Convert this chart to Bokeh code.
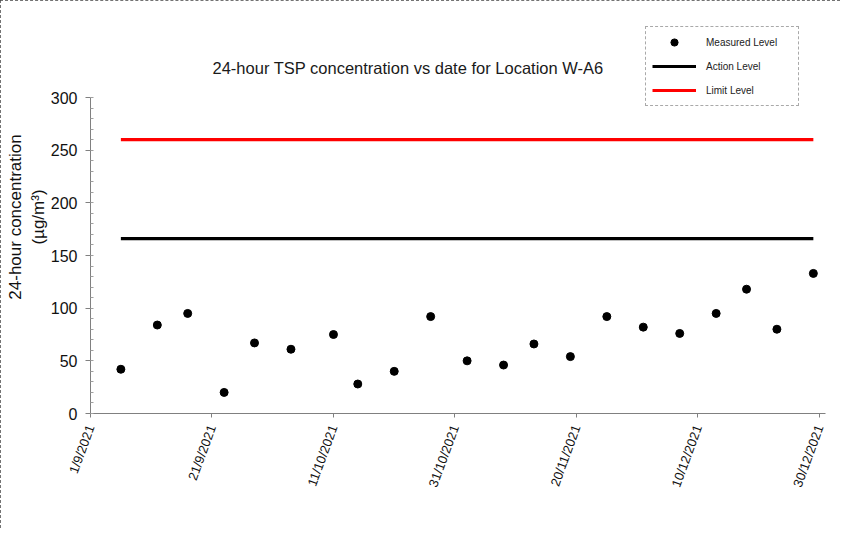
import pandas as pd
from bokeh.plotting import figure
from bokeh.models import Range1d, FixedTicker, Legend, LegendItem, Label
from bokeh.embed import file_html
from bokeh.resources import INLINE

# ---- data ----
dates = ["2021-09-06", "2021-09-12", "2021-09-17", "2021-09-23", "2021-09-28",
         "2021-10-04", "2021-10-11", "2021-10-15", "2021-10-21", "2021-10-27",
         "2021-11-02", "2021-11-08", "2021-11-13", "2021-11-19", "2021-11-25",
         "2021-12-01", "2021-12-07", "2021-12-13", "2021-12-18", "2021-12-23",
         "2021-12-29"]
measured = [42, 84, 95, 20, 67, 61, 75, 28, 40, 92, 50, 46, 66, 54, 92,
            82, 76, 95, 118, 80, 133]
action_level = 166
limit_level = 260
tick_dates = ["2021-09-01", "2021-09-21", "2021-10-11", "2021-10-31",
              "2021-11-20", "2021-12-10", "2021-12-30"]
tick_labels = ["1/9/2021", "21/9/2021", "11/10/2021", "31/10/2021",
               "20/11/2021", "10/12/2021", "30/12/2021"]
y_ticks = [0, 50, 100, 150, 200, 250, 300]
x_start, x_end = "2021-09-01", "2021-12-31"
y_start, y_end = 0, 300

FONT = "Liberation Sans"

# layout (pixels)
W, H = 840, 528
LEFT, RIGHT_PAD = 90, 15
AXIS_TOP, AXIS_BOTTOM = 97, 413   # where the y axis runs from 300 down to 0
FRAME_TOP = 20                    # frame extends above the axis to hold title & legend
frame_h = AXIS_BOTTOM - FRAME_TOP
axis_h = AXIS_BOTTOM - AXIS_TOP
y_view_end = y_start + (y_end - y_start) * frame_h / axis_h

x = pd.to_datetime(dates)
tick_ts = pd.to_datetime(tick_dates)
tick_ms = [int(t.value // 10**6) for t in tick_ts]

p = figure(width=W, height=H, output_backend="svg", toolbar_location=None,
           x_axis_type="datetime",
           x_range=Range1d(pd.Timestamp(x_start), pd.Timestamp(x_end)),
           y_range=Range1d(y_start, y_view_end),
           min_border_left=LEFT, min_border_right=RIGHT_PAD,
           min_border_top=FRAME_TOP, min_border_bottom=H - AXIS_BOTTOM)
p.styles = {"outline": "1px dashed #444", "outline-offset": "-1px"}

p.outline_line_color = None
p.xgrid.grid_line_color = None
p.ygrid.grid_line_color = None
p.background_fill_color = "white"
p.border_fill_color = "white"

lim = p.line([x.min(), x.max()], [limit_level, limit_level], line_color="#ff0000", line_width=3.2)
act = p.line([x.min(), x.max()], [action_level, action_level], line_color="black", line_width=3.2)
pts = p.scatter(x, measured, size=8, color="black")

title = Label(x=122, y=AXIS_BOTTOM - 67, x_units="screen", y_units="screen",
              text="24-hour TSP concentration vs date for Location W-A6",
              text_font=FONT, text_font_size="16.5px", text_color="#1a1a1a",
              text_align="left", text_baseline="middle")
p.add_layout(title)

# axes
xa = p.xaxis[0]
xa.ticker = FixedTicker(ticks=tick_ms, minor_ticks=[])
xa.major_label_overrides = {m: l for m, l in zip(tick_ms, tick_labels)}
xa.major_label_orientation = 1.22
xa.major_label_text_font = FONT
xa.major_label_text_font_size = "13px"
xa.major_label_text_color = "#111111"
xa.major_label_standoff = 8
xa.axis_line_color = "#808080"
xa.major_tick_line_color = "#808080"
xa.major_tick_out = 4
xa.major_tick_in = 0

ya = p.yaxis[0]
ya.bounds = (y_start, y_end)
ya.ticker = FixedTicker(ticks=y_ticks, minor_ticks=list(range(0, 301, 10)))
ya.major_label_text_font = FONT
ya.major_label_text_font_size = "16px"
ya.major_label_text_color = "#111111"
ya.major_label_standoff = 8
ya.axis_line_color = "#808080"
ya.major_tick_line_color = "#808080"
ya.minor_tick_line_color = "#a0a0a0"
ya.major_tick_out = 5
ya.major_tick_in = 0
ya.minor_tick_in = 3
ya.minor_tick_out = 0
ya.axis_label = "24-hour concentration\n(µg/m³)"
ya.axis_label_text_font = FONT
ya.axis_label_text_font_size = "17px"
ya.axis_label_text_font_style = "normal"
ya.axis_label_text_color = "#111111"
ya.axis_label_standoff = 0

legend = Legend(items=[LegendItem(label="Measured Level", renderers=[pts]),
                       LegendItem(label="Action Level", renderers=[act]),
                       LegendItem(label="Limit Level", renderers=[lim])],
                location=(555, AXIS_BOTTOM - 106))
legend.padding = 6
legend.spacing = 6
legend.glyph_height = 18
legend.glyph_width = 44
legend.label_standoff = 10
legend.label_width = 86
legend.label_text_font = FONT
legend.label_text_font_size = "10px"
legend.label_text_color = "#222222"
legend.border_line_color = "#555555"
legend.border_line_dash = "dotted"
legend.border_line_width = 1
legend.background_fill_alpha = 1.0
legend.margin = 0
p.add_layout(legend)

open("out.html", "w").write(file_html(p, INLINE))
